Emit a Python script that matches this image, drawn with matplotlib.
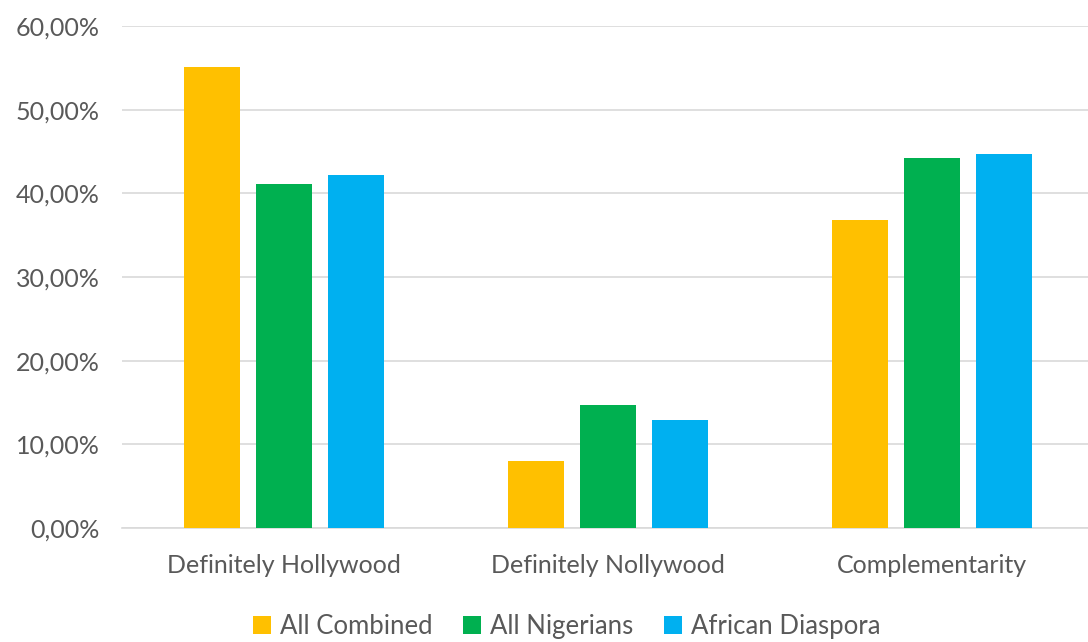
import matplotlib.pyplot as plt
import numpy as np
from matplotlib.ticker import FuncFormatter

categories = ['Definitely Hollywood', 'Definitely Nollywood', 'Complementarity']
series_names = ['All Combined', 'All Nigerians', 'African Diaspora']
all_combined = [0.551, 0.080, 0.368]
all_nigerians = [0.411, 0.147, 0.442]
african_diaspora = [0.422, 0.129, 0.447]
colors = ['#FFC000', '#00B050', '#00B0F0']

plt.rcParams['font.family'] = ['Lato', 'DejaVu Sans']

fig = plt.figure(figsize=(10.88, 6.42), dpi=100)
ax = fig.add_axes([0.112, 0.1776, 0.888, 0.7819])

x = np.arange(len(categories))
width = 0.173
step = 0.222
for i, (vals, name) in enumerate(zip([all_combined, all_nigerians, african_diaspora], series_names)):
    ax.bar(x + (i - 1) * step, vals, width, color=colors[i], label=name, zorder=3)

ax.set_xlim(-0.5, 2.48)
ax.set_ylim(0, 0.6)
ax.set_yticks(np.arange(0, 0.61, 0.1))
ax.yaxis.set_major_formatter(FuncFormatter(lambda v, p: f'{v * 100:.2f}%'.replace('.', ',')))
ax.set_xticks(x)
ax.set_xticklabels(categories)
ax.grid(axis='y', color='#D9D9D9', linewidth=1.2, zorder=0)
for s in ['top', 'right', 'left']:
    ax.spines[s].set_visible(False)
ax.spines['bottom'].set_color('#D9D9D9')
ax.spines['bottom'].set_linewidth(1.2)
ax.tick_params(axis='both', length=0, labelsize=18, colors='#595959')
ax.tick_params(axis='x', pad=19)
ax.tick_params(axis='y', pad=16)

fig.legend(loc='lower center', bbox_to_anchor=(0.521, -0.032), ncol=3, frameon=False,
           fontsize=18.5, handlelength=0.7, handleheight=0.7, handletextpad=0.35,
           columnspacing=1.2, labelcolor='#595959')

fig.savefig('out.png', dpi=100)
